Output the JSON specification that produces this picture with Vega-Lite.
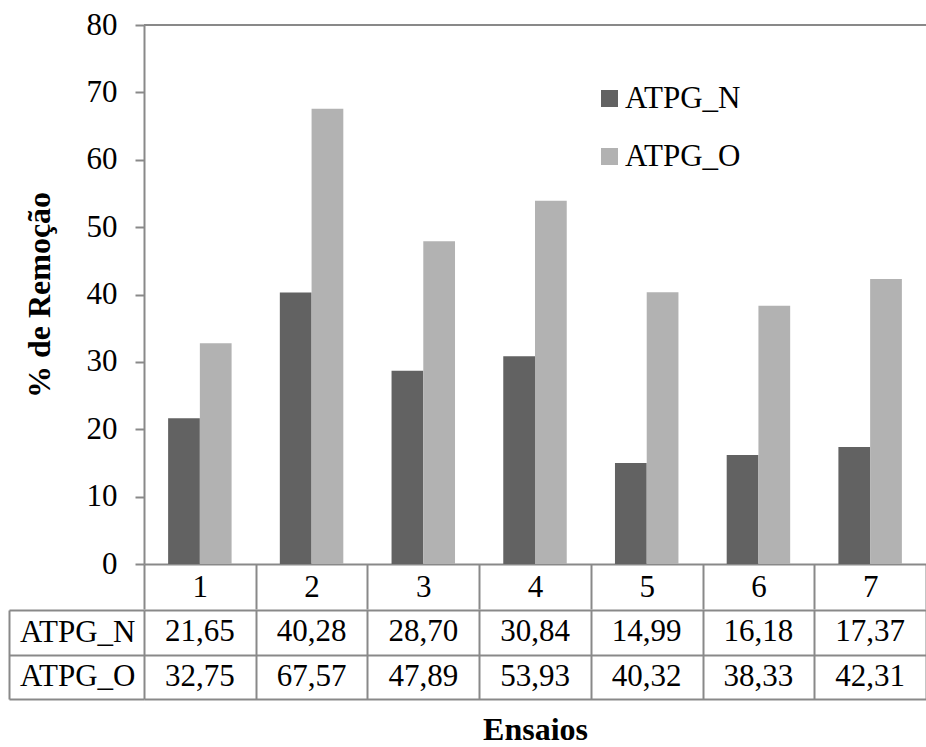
{
  "$schema": "https://vega.github.io/schema/vega-lite/v6.json",
  "padding": {"left": 8, "top": 9, "right": 0, "bottom": 0},
  "background": "white",
  "spacing": -17,
  "config": {
    "font": "Liberation Serif",
    "locale": {"number": {"decimal": ",", "thousands": ".", "grouping": [3], "currency": ["", ""]}},
    "view": {"stroke": null},
    "axis": {
      "labelFont": "Liberation Serif", "titleFont": "Liberation Serif",
      "labelColor": "#000000", "titleColor": "#000000",
      "domainColor": "#898989", "tickColor": "#898989", "gridColor": "#898989",
      "domainWidth": 2, "tickWidth": 2, "gridWidth": 2,
      "labelFontSize": 31, "titleFontSize": 32, "titleFontWeight": "bold"
    }
  },
  "data": {"values": [
    {"ensaio": 1, "serie": "ATPG_N", "valor": 21.65},
    {"ensaio": 2, "serie": "ATPG_N", "valor": 40.28},
    {"ensaio": 3, "serie": "ATPG_N", "valor": 28.70},
    {"ensaio": 4, "serie": "ATPG_N", "valor": 30.84},
    {"ensaio": 5, "serie": "ATPG_N", "valor": 14.99},
    {"ensaio": 6, "serie": "ATPG_N", "valor": 16.18},
    {"ensaio": 7, "serie": "ATPG_N", "valor": 17.37},
    {"ensaio": 1, "serie": "ATPG_O", "valor": 32.75},
    {"ensaio": 2, "serie": "ATPG_O", "valor": 67.57},
    {"ensaio": 3, "serie": "ATPG_O", "valor": 47.89},
    {"ensaio": 4, "serie": "ATPG_O", "valor": 53.93},
    {"ensaio": 5, "serie": "ATPG_O", "valor": 40.32},
    {"ensaio": 6, "serie": "ATPG_O", "valor": 38.33},
    {"ensaio": 7, "serie": "ATPG_O", "valor": 42.31}
  ]},
  "resolve": {"scale": {"x": "independent", "y": "independent", "color": "independent"}},
  "vconcat": [
    {
      "width": 782,
      "height": 539,
      "layer": [
        {
          "mark": {"type": "bar"},
          "encoding": {
            "x": {
              "field": "ensaio", "type": "ordinal",
              "scale": {"paddingInner": 0, "paddingOuter": 0},
              "axis": {
                "title": null, "tickBand": "extent", "tickSize": 45,
                "labelAngle": 0, "labelPadding": -22, "labelBaseline": "middle",
                "domain": true, "grid": false, "minExtent": 0, "maxExtent": 45
              }
            },
            "xOffset": {
              "field": "serie", "type": "nominal",
              "scale": {"paddingInner": 0, "paddingOuter": 0.76}
            },
            "y": {
              "field": "valor", "type": "quantitative",
              "scale": {"domain": [0, 80], "nice": false},
              "axis": {
                "title": "% de Remoção",
                "values": [0, 10, 20, 30, 40, 50, 60, 70, 80],
                "tickSize": 9, "labelPadding": 18, "titlePadding": 30,
                "grid": false, "domain": true
              }
            },
            "color": {
              "field": "serie", "type": "nominal",
              "scale": {"domain": ["ATPG_N", "ATPG_O"], "range": ["#626262", "#b2b2b2"]},
              "legend": {
                "title": null, "orient": "none", "legendX": 450, "legendY": 58,
                "symbolType": "square", "symbolSize": 289, "symbolStrokeWidth": 0,
                "symbolOpacity": 1,
                "labelFontSize": 31, "labelFont": "Liberation Serif", "labelColor": "#000000",
                "rowPadding": 26, "labelOffset": 0, "padding": 0
              }
            }
          }
        },
        {
          "mark": {"type": "rule", "color": "#898989", "strokeWidth": 2},
          "encoding": {"y": {"datum": 80}}
        }
      ]
    },
    {
      "width": 782,
      "height": 89,
      "mark": {"type": "text", "fontSize": 31, "font": "Liberation Serif", "color": "#000000"},
      "encoding": {
        "x": {
          "field": "ensaio", "type": "ordinal",
          "scale": {"paddingInner": 0, "paddingOuter": 0},
          "axis": {
            "title": "Ensaios", "labels": false, "ticks": false, "domain": false,
            "grid": true, "tickBand": "extent", "titlePadding": 15
          }
        },
        "y": {
          "field": "serie", "type": "nominal",
          "scale": {"domain": ["ATPG_N", "ATPG_O"], "paddingInner": 0, "paddingOuter": 0},
          "axis": {
            "title": null, "offset": 135, "domain": true, "ticks": true,
            "tickSize": -135, "tickBand": "extent", "grid": true,
            "labelPadding": 9, "labelFontSize": 31
          }
        },
        "text": {"field": "valor", "type": "quantitative", "format": ".2f"}
      }
    }
  ]
}
